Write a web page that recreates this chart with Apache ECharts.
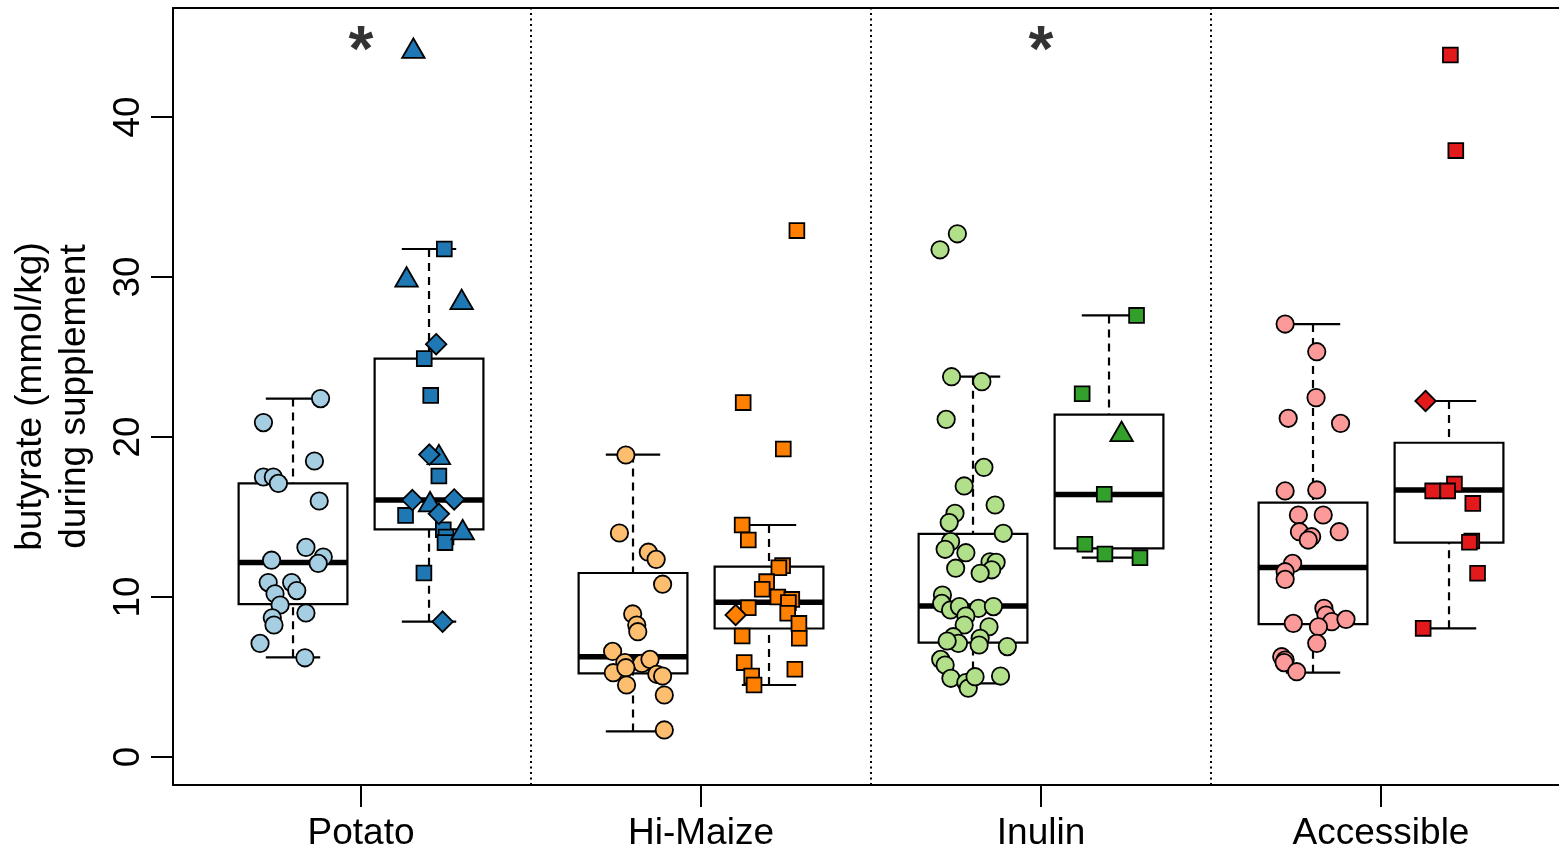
<!DOCTYPE html>
<html><head><meta charset="utf-8">
<script src="https://cdn.jsdelivr.net/npm/echarts@6/dist/echarts.min.js"></script>
<style>html,body{margin:0;padding:0;background:#fff}#c{width:1559px;height:853px}</style>
</head><body><div id="c"></div>
<script>
// ---------------- data ----------------
const categories = ['Potato', 'Hi-Maize', 'Inulin', 'Accessible'];
const yTicks = [0, 10, 20, 30, 40];
const significance = ['*', '', '*', ''];
const separators = [1.5, 2.5, 3.5];
const lightColors = ['#a6cee3', '#fdbf6f', '#b2df8a', '#fb9a99'];
const darkColors = ['#1f78b4', '#ff7f00', '#33a02c', '#e31a1c'];

// box stats: [lower whisker, Q1, median, Q3, upper whisker]
const boxLeft = [
  [6.23, 9.56, 12.15, 17.1, 22.4],
  [1.6, 5.23, 6.27, 11.5, 18.9],
  [4.6, 7.15, 9.44, 13.94, 23.77],
  [5.27, 8.31, 11.85, 15.9, 27.06]
];
const boxRight = [
  [8.46, 14.23, 16.06, 24.9, 31.75],
  [4.5, 8.03, 9.67, 11.9, 14.5],
  [12.46, 13.04, 16.4, 21.4, 27.6],
  [8.04, 13.4, 16.69, 19.64, 22.25]
];

// points: [jitter, butyrate]
const potatoLeft = [[0.081,22.4],[-0.087,20.9],[0.063,18.5],[-0.087,17.5],[-0.058,17.5],[-0.043,17.1],[0.077,16.0],[0.038,13.1],[0.089,12.5],[-0.063,12.3],[0.074,12.1],[-0.073,10.9],[-0.004,10.9],[0.011,10.4],[-0.053,10.2],[-0.038,9.5],[0.038,9.0],[-0.061,8.7],[-0.056,8.25],[-0.097,7.1],[0.035,6.2]];
const potatoRightSquares = [[0.045,31.75],[-0.014,24.9],[0.005,22.6],[0.029,17.56],[-0.069,15.1],[0.042,14.2],[0.050,13.75],[0.047,13.4],[-0.015,11.5]];
const potatoRightTriangles = [[-0.046,44.1],[-0.066,29.8],[0.096,28.4],[0.029,18.7],[0.003,15.75],[0.099,14.0]];
const potatoRightDiamonds = [[0.021,25.8],[0.001,18.9],[-0.049,16.06],[0.074,16.1],[0.029,15.2],[0.040,8.46]];

const maizeLeft = [[-0.021,18.875],[-0.040,14.0],[0.045,12.8],[0.068,12.35],[0.087,10.8],[-0.001,8.94],[0.011,8.25],[0.014,7.83],[-0.060,6.6],[-0.024,5.9],[0.026,5.85],[0.050,6.1],[-0.058,5.27],[-0.021,5.58],[0.070,5.17],[0.087,5.06],[-0.019,4.5],[0.092,3.875],[0.092,1.69]];
const maizeRightSquares = [[0.082,32.9],[-0.076,22.15],[0.042,19.25],[-0.079,14.5],[-0.061,13.56],[0.040,11.96],[0.029,11.83],[-0.007,10.96],[-0.020,10.48],[0.026,10.0],[0.067,9.85],[0.057,9.65],[-0.061,9.33],[0.055,8.98],[0.088,8.35],[-0.079,7.56],[0.089,7.42],[-0.073,5.9],[0.076,5.48],[-0.051,5.06],[-0.044,4.5]];
const maizeRightDiamonds = [[-0.098,8.875]];

const inulinLeft = [[-0.063,23.77],[0.026,23.46],[-0.079,21.1],[0.032,18.1],[-0.026,16.94],[0.065,15.75],[-0.053,15.23],[-0.070,14.65],[0.089,13.98],[-0.066,13.46],[-0.082,12.98],[-0.021,12.77],[0.050,12.2],[0.068,12.17],[0.055,11.7],[0.021,11.48],[-0.051,11.8],[-0.090,10.125],[-0.092,9.6],[-0.066,9.19],[-0.040,9.4],[0.016,9.29],[0.060,9.4],[-0.021,8.81],[-0.026,8.25],[0.047,8.14],[-0.058,7.52],[-0.043,7.1],[-0.076,7.25],[0.021,7.42],[0.018,7.0],[0.101,6.9],[-0.095,6.1],[-0.082,5.75],[-0.065,4.92],[-0.021,4.65],[-0.014,4.3],[0.006,5.02],[0.081,5.06],[-0.046,32.7],[-0.097,31.7]];
const inulinRightSquares = [[0.081,27.6],[-0.079,22.7],[-0.014,16.42],[-0.071,13.3],[-0.012,12.69],[0.091,12.46]];
const inulinRightTriangles = [[0.037,20.15]];

const accessibleLeft = [[-0.082,27.06],[0.011,25.33],[0.009,22.46],[-0.073,21.17],[0.081,20.85],[-0.082,16.63],[0.011,16.69],[-0.043,15.125],[0.030,15.125],[-0.040,14.08],[0.077,14.08],[-0.004,13.77],[-0.014,13.56],[-0.060,12.1],[-0.082,11.58],[-0.082,11.1],[0.032,9.29],[0.038,8.875],[0.055,8.46],[0.097,8.6],[-0.058,8.35],[0.016,8.14],[0.011,7.1],[-0.092,6.27],[-0.082,6.06],[-0.085,5.9],[-0.048,5.33]];
const accessibleRightSquares = [[0.004,43.875],[0.020,37.9],[0.016,17.06],[-0.048,16.63],[-0.004,16.63],[0.070,15.85],[0.067,13.5],[0.060,13.42],[0.084,11.48],[-0.076,8.04]];
const accessibleRightDiamonds = [[-0.069,22.25]];

// ---------------- layout / style ----------------
const FONT = '"Liberation Sans", Arial, Helvetica, sans-serif';
const X_MIN = 0.447, X_MAX = 4.5235;
const Y_MIN = -1.75, Y_MAX = 46.8125;
const SIDE = 0.2, BOX_HALF = 0.16, CAP_HALF = 0.08;
const SIG_Y = 44.0;

const shapes = {
  circle: { symbol: 'circle', symbolSize: 17.4, symbolOffset: [0, 0] },
  square: { symbol: 'rect', symbolSize: 14.8, symbolOffset: [0, 0] },
  triangle: { symbol: 'triangle', symbolSize: [22.5, 19.5], symbolOffset: [0, -3.3] },
  diamond: { symbol: 'diamond', symbolSize: 20.5, symbolOffset: [0, 0] }
};

const groups = [
  { cat: 0, side: -1, shape: 'circle', pts: potatoLeft, color: lightColors[0] },
  { cat: 0, side: 1, shape: 'square', pts: potatoRightSquares, color: darkColors[0] },
  { cat: 0, side: 1, shape: 'triangle', pts: potatoRightTriangles, color: darkColors[0] },
  { cat: 0, side: 1, shape: 'diamond', pts: potatoRightDiamonds, color: darkColors[0] },
  { cat: 1, side: -1, shape: 'circle', pts: maizeLeft, color: lightColors[1] },
  { cat: 1, side: 1, shape: 'square', pts: maizeRightSquares, color: darkColors[1] },
  { cat: 1, side: 1, shape: 'diamond', pts: maizeRightDiamonds, color: darkColors[1] },
  { cat: 2, side: -1, shape: 'circle', pts: inulinLeft, color: lightColors[2] },
  { cat: 2, side: 1, shape: 'square', pts: inulinRightSquares, color: darkColors[2] },
  { cat: 2, side: 1, shape: 'triangle', pts: inulinRightTriangles, color: darkColors[2] },
  { cat: 3, side: -1, shape: 'circle', pts: accessibleLeft, color: lightColors[3] },
  { cat: 3, side: 1, shape: 'square', pts: accessibleRightSquares, color: darkColors[3] },
  { cat: 3, side: 1, shape: 'diamond', pts: accessibleRightDiamonds, color: darkColors[3] }
];

const boxData = [];
categories.forEach((c, i) => {
  boxData.push([i + 1 - SIDE].concat(boxLeft[i]));
  boxData.push([i + 1 + SIDE].concat(boxRight[i]));
});

function renderBox(params, api) {
  const x = api.value(0);
  const lo = api.value(1), q1 = api.value(2), med = api.value(3), q3 = api.value(4), hi = api.value(5);
  const pt = (xx, yy) => api.coord([xx, yy]);
  const xc = pt(x, med)[0];
  const yLo = pt(x, lo)[1], yQ1 = pt(x, q1)[1], yMed = pt(x, med)[1], yQ3 = pt(x, q3)[1], yHi = pt(x, hi)[1];
  const xl = pt(x - BOX_HALF, med)[0], xr = pt(x + BOX_HALF, med)[0];
  const cl = pt(x - CAP_HALF, med)[0], cr = pt(x + CAP_HALF, med)[0];
  const st = { stroke: '#000', lineWidth: 2.2, fill: null };
  const dash = { stroke: '#000', lineWidth: 2.2, lineDash: [8, 6], fill: null };
  return {
    type: 'group',
    children: [
      { type: 'line', shape: { x1: xc, y1: yHi, x2: xc, y2: yQ3 }, style: dash },
      { type: 'line', shape: { x1: xc, y1: yLo, x2: xc, y2: yQ1 }, style: dash },
      { type: 'line', shape: { x1: cl, y1: yHi, x2: cr, y2: yHi }, style: st },
      { type: 'line', shape: { x1: cl, y1: yLo, x2: cr, y2: yLo }, style: st },
      { type: 'rect', shape: { x: xl, y: yQ3, width: xr - xl, height: yQ1 - yQ3 }, style: { fill: '#fff', stroke: '#000', lineWidth: 2.2 } },
      { type: 'line', shape: { x1: xl, y1: yMed, x2: xr, y2: yMed }, style: { stroke: '#000', lineWidth: 5.5 } }
    ]
  };
}

const series = [{
  type: 'custom',
  name: 'boxes',
  renderItem: renderBox,
  data: boxData,
  encode: { x: 0, y: [1, 2, 3, 4, 5] },
  z: 2,
  silent: true,
  markLine: {
    silent: true,
    symbol: ['none', 'none'],
    label: { show: false },
    lineStyle: { color: '#000', type: [2, 3.5], width: 2 },
    emphasis: { disabled: true },
    data: separators.map(v => ({ xAxis: v }))
  }
}];

groups.forEach(g => {
  const s = shapes[g.shape];
  series.push({
    type: 'scatter',
    symbol: s.symbol,
    symbolSize: s.symbolSize,
    symbolOffset: s.symbolOffset,
    itemStyle: { color: g.color, borderColor: '#000', borderWidth: 1.8, opacity: 1 },
    data: g.pts.map(p => [g.cat + 1 + g.side * SIDE + p[0], p[1]]),
    z: 3,
    silent: true
  });
});

series.push({
  type: 'scatter',
  symbolSize: 1,
  itemStyle: { color: 'rgba(0,0,0,0)' },
  z: 4,
  silent: true,
  data: significance.map((m, i) => ({ value: [i + 1, SIG_Y], mark: m })).filter(d => d.mark),
  label: {
    show: true, position: 'inside', formatter: p => p.data.mark,
    fontSize: 64, fontWeight: 'bold', color: '#000', fontFamily: FONT, lineHeight: 64
  }
});

const axisLineStyle = { color: '#000', width: 2 };
const option = {
  animation: false,
  backgroundColor: '#fff',
  grid: { left: 173, right: 0, top: 8, bottom: 68, containLabel: false, outerBoundsMode: 'none' },
  xAxis: [{
    type: 'value', min: X_MIN, max: X_MAX, position: 'bottom',
    axisLine: { show: true, onZero: false, lineStyle: axisLineStyle },
    axisTick: { show: true, customValues: [1, 2, 3, 4], length: 22, lineStyle: axisLineStyle },
    axisLabel: { customValues: [1, 2, 3, 4], formatter: v => categories[Math.round(v) - 1], fontSize: 37, lineHeight: 37, color: '#000', margin: 30, fontFamily: FONT },
    splitLine: { show: false }
  }, {
    type: 'value', min: X_MIN, max: X_MAX, position: 'top',
    axisLine: { show: true, onZero: false, lineStyle: axisLineStyle },
    axisTick: { show: false }, axisLabel: { show: false }, splitLine: { show: false }
  }],
  yAxis: {
    type: 'value', min: Y_MIN, max: Y_MAX,
    axisLine: { show: true, onZero: false, lineStyle: axisLineStyle },
    axisTick: { show: true, customValues: yTicks, length: 22, lineStyle: axisLineStyle },
    axisLabel: { customValues: yTicks, rotate: 90, fontSize: 37, lineHeight: 37, color: '#000', margin: 26, fontFamily: FONT },
    splitLine: { show: false },
    name: 'butyrate (mmol/kg)\nduring supplement',
    nameLocation: 'middle', nameRotate: 90, nameGap: 76,
    nameTextStyle: { fontSize: 37, lineHeight: 44, color: '#000', fontFamily: FONT }
  },
  series: series
};

const chart = echarts.init(document.getElementById('c'), null, { renderer: 'canvas' });
chart.setOption(option);
</script>
</body></html>
